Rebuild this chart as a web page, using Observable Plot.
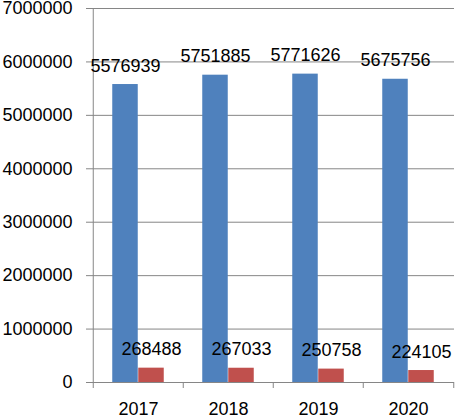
<!DOCTYPE html>
<html>
<head>
<meta charset="utf-8">
<script src="https://cdn.jsdelivr.net/npm/d3@7"></script>
<script src="https://cdn.jsdelivr.net/npm/@observablehq/plot@0.6"></script>
<style>
  html, body { margin: 0; padding: 0; background: #fff; }
</style>
</head>
<body>
<div id="chart"></div>
<script>
const years = ["2017", "2018", "2019", "2020"];
const seriesA = [5576939, 5751885, 5771626, 5675756];
const seriesB = [268488, 267033, 250758, 224105];
const yTicks = [0, 1000000, 2000000, 3000000, 4000000, 5000000, 6000000, 7000000];
const colorA = "#4F81BD";
const colorB = "#C0504D";

const W = 455, H = 416;
const mL = 92, mR = 1, mT = 8, mB = 34;
const bw = (W - mL - mR) / years.length;     // band width
const barW = bw * 26 / 90.5;                 // Excel gap width 150%
const gap = (bw - 2 * barW) / 2;

const dataA = years.map((year, i) => ({year, value: seriesA[i]}));
const dataB = years.map((year, i) => ({year, value: seriesB[i]}));

const grid = "#868686";

const chart = Plot.plot({
  width: W,
  height: H,
  marginLeft: mL,
  marginRight: mR,
  marginTop: mT,
  marginBottom: mB,
  style: {fontFamily: "'Liberation Sans', Arial, sans-serif", fontSize: "18px", color: "#000", background: "#fff"},
  x: {domain: years, padding: 0, label: null},
  y: {domain: [0, 7000000], label: null},
  marks: [
    Plot.ruleY(yTicks, {stroke: grid, strokeWidth: 1}),
    Plot.axisY({ticks: yTicks, tickSize: 6, tickPadding: 14, stroke: grid, tickFormat: d => String(d), label: null, fill: "#000"}),
    Plot.ruleX([years[0]], {dx: -bw / 2, stroke: grid}),
    Plot.ruleX(years, {dx: -bw / 2, y1: 0, y2: 0, insetBottom: -6, stroke: grid}),
    Plot.ruleX([years[years.length - 1]], {dx: bw / 2, y1: 0, y2: 0, insetBottom: -6, stroke: grid}),
    Plot.axisX({tickSize: 0, tickPadding: 20, label: null, fill: "#000"}),
    Plot.barY(dataA, {x: "year", y: "value", fill: colorA, insetLeft: gap, insetRight: gap + barW}),
    Plot.barY(dataB, {x: "year", y: "value", fill: colorB, insetLeft: gap + barW, insetRight: gap}),
    Plot.text(dataA, {x: "year", y: "value", text: d => String(d.value), dx: -barW / 2, dy: -13, lineAnchor: "bottom", fill: "#000"}),
    Plot.text(dataB, {x: "year", y: "value", text: d => String(d.value), dx: barW / 2, dy: -13, lineAnchor: "bottom", fill: "#000"})
  ]
});

document.getElementById("chart").appendChild(chart);
</script>
</body>
</html>
